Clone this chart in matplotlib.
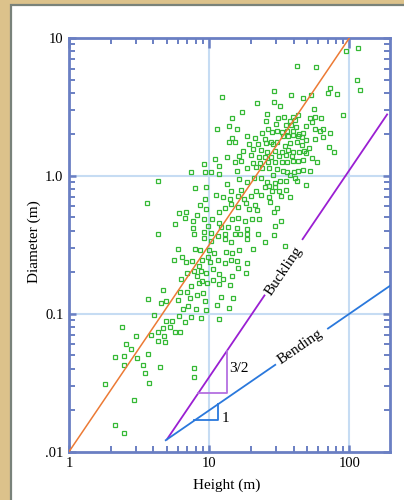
import numpy as np
import matplotlib
matplotlib.use("Agg")
import matplotlib.pyplot as plt
from matplotlib.patches import Rectangle
from matplotlib.ticker import NullFormatter

plt.rcParams['font.family'] = ['Liberation Serif', 'DejaVu Serif']

# tree data (log10 of metres)
log_height = [
    1.979, 2.064, 1.627, 1.760, 2.055, 2.078, 1.465, 1.586, 1.094, 1.672,
    1.729, 1.864, 1.845, 1.914, 1.341, 1.465, 1.503, 1.237, 1.413, 1.750,
    1.955, 1.161, 1.489, 1.534, 1.405, 1.598, 1.631, 1.717, 1.757, 1.798,
    1.577, 1.615, 1.731, 1.141, 1.201, 1.058, 1.420, 1.474, 1.546, 1.584,
    1.620, 1.691, 1.753, 1.791, 1.812, 1.864, 1.377, 1.448, 1.482, 1.520,
    1.555, 1.598, 1.639, 1.667, 1.272, 1.329, 1.163, 1.144, 1.184, 1.284,
    1.346, 1.403, 1.439, 1.482, 1.527, 1.565, 1.600, 1.631, 1.660, 1.688,
    1.753, 1.812, 1.398, 1.453, 1.541, 1.577, 1.624, 1.662, 1.715, 1.855,
    1.893, 1.244, 1.315, 1.367, 1.415, 1.470, 1.517, 1.562, 1.600, 1.639,
    1.674, 1.213, 1.296, 1.358, 1.396, 1.441, 1.496, 1.548, 1.589, 1.688,
    1.736, 1.772, 0.966, 1.039, 1.130, 1.070, 1.182, 1.227, 1.310, 1.363,
    1.420, 1.472, 1.517, 1.558, 1.596, 1.631, 1.669, 0.868, 0.970, 1.013,
    1.070, 1.196, 1.270, 1.332, 1.377, 1.429, 1.482, 1.527, 1.558, 1.603,
    1.631, 1.672, 1.722, 0.637, 1.213, 1.268, 1.317, 1.367, 1.410, 1.453,
    1.467, 1.508, 1.546, 1.577, 1.612, 1.629, 1.691, 1.125, 0.897, 0.975,
    1.156, 1.229, 1.337, 1.401, 1.448, 1.496, 1.548, 1.429, 1.470, 1.051,
    1.099, 1.146, 0.970, 1.206, 1.249, 1.298, 1.372, 1.424, 1.510, 1.574,
    0.554, 0.782, 0.837, 0.828, 0.754, 0.932, 0.975, 0.913, 0.887, 0.887,
    0.961, 1.023, 1.068, 1.113, 1.158, 1.206, 1.263, 1.284, 1.327, 1.344,
    1.434, 1.486, 1.070, 1.161, 1.208, 1.258, 1.303, 1.358, 1.465, 1.515,
    0.992, 0.963, 1.013, 1.084, 1.137, 1.196, 1.268, 0.892, 0.637, 1.065,
    1.113, 1.182, 1.222, 1.270, 1.351, 1.472, 1.465, 0.961, 1.011, 1.113,
    1.156, 1.270, 1.396, 1.539,
    0.780, 0.901, 0.935, 0.996, 1.037, 1.122, 1.165, 1.213, 1.310, 0.751,
    0.806, 0.837, 0.880, 0.925, 0.951, 0.994, 1.006, 1.063, 1.113, 1.158,
    1.199, 1.268, 1.206, 1.263, 0.799, 0.839, 0.894, 0.916, 0.942, 0.980,
    1.025, 1.068, 1.101, 1.165, 0.673, 0.794, 0.844, 0.868, 0.927, 0.949,
    0.985, 1.030, 1.073, 1.149, 0.564, 0.656, 0.690, 0.780, 0.816, 0.847,
    0.908, 0.968, 0.980, 1.056, 1.087, 1.144, 1.172, 0.866, 0.916, 0.958,
    0.604, 0.690, 0.737, 0.787, 0.825, 0.873, 0.944, 1.073, 0.380, 0.478,
    0.587, 0.635, 0.673, 0.718, 0.756, 0.792, 0.407, 0.445, 0.326, 0.392,
    0.483, 0.566, 0.635, 0.683, 0.675, 0.530, 0.652, 0.395, 0.545, 0.573,
    0.259, 0.466, 0.328, 0.392, 0.889, 0.889,
]
log_diameter = [
    0.904, 0.928, 0.796, 0.791, 0.692, 0.625, 0.613, 0.587, 0.572, 0.565,
    0.589, 0.639, 0.601, 0.591, 0.531, 0.538, 0.510, 0.466, 0.452, 0.483,
    0.445, 0.418, 0.418, 0.430, 0.401, 0.430, 0.445, 0.423, 0.430, 0.423,
    0.399, 0.406, 0.392, 0.361, 0.339, 0.339, 0.341, 0.373, 0.368, 0.368,
    0.358, 0.365, 0.339, 0.325, 0.339, 0.308, 0.308, 0.315, 0.325, 0.320,
    0.327, 0.327, 0.305, 0.310, 0.286, 0.272, 0.276, 0.243, 0.243, 0.233,
    0.233, 0.236, 0.243, 0.248, 0.291, 0.288, 0.298, 0.286, 0.281, 0.260,
    0.267, 0.284, 0.267, 0.231, 0.219, 0.238, 0.243, 0.224, 0.200, 0.212,
    0.171, 0.178, 0.195, 0.190, 0.175, 0.178, 0.175, 0.190, 0.175, 0.171,
    0.183, 0.147, 0.154, 0.137, 0.137, 0.139, 0.142, 0.151, 0.144, 0.168,
    0.130, 0.099, 0.084, 0.125, 0.139, 0.070, 0.099, 0.108, 0.096, 0.094,
    0.103, 0.103, 0.099, 0.099, 0.106, 0.111, 0.113, 0.026, 0.026, 0.031,
    0.014, 0.036, 0.058, 0.065, 0.055, 0.058, 0.050, 0.038, 0.029, 0.026,
    0.034, 0.046, 0.034, -0.036, -0.024, -0.043, -0.014, -0.017, -0.041, 0.007,
    -0.048, -0.034, -0.036, 0.010, -0.014, -0.034, -0.065, -0.058, -0.091, -0.084,
    -0.111, -0.099, -0.113, -0.082, -0.111, -0.106, -0.101, -0.072, -0.077, -0.139,
    -0.156, -0.168, -0.171, -0.144, -0.168, -0.144, -0.142, -0.151, -0.149, -0.154,
    -0.195, -0.269, -0.262, -0.305, -0.349, -0.214, -0.243, -0.284, -0.329, -0.375,
    -0.315, -0.313, -0.264, -0.233, -0.204, -0.228, -0.195, -0.243, -0.214, -0.248,
    -0.190, -0.231, -0.344, -0.310, -0.303, -0.325, -0.310, -0.310, -0.262, -0.325,
    -0.361, -0.406, -0.411, -0.368, -0.373, -0.377, -0.387, -0.418, -0.421, -0.433,
    -0.423, -0.418, -0.421, -0.418, -0.418, -0.361, -0.430, -0.452, -0.474, -0.454,
    -0.478, -0.459, -0.478, -0.505,
    -0.529, -0.532, -0.537, -0.537, -0.561, -0.551, -0.556, -0.537, -0.529, -0.607,
    -0.588, -0.622, -0.615, -0.651, -0.610, -0.588, -0.622, -0.612, -0.634, -0.612,
    -0.615, -0.629, -0.666, -0.702, -0.749, -0.705, -0.693, -0.727, -0.688, -0.707,
    -0.676, -0.710, -0.746, -0.727, -0.829, -0.841, -0.841, -0.798, -0.776, -0.761,
    -0.776, -0.754, -0.785, -0.793, -0.895, -0.922, -0.910, -0.900, -0.966, -0.944,
    -0.966, -0.910, -0.976, -0.934, -0.878, -0.959, -0.885, -0.885, -0.866, -0.846,
    -1.007, -1.051, -1.051, -1.017, -1.061, -1.024, -1.034, -1.037, -1.093, -1.163,
    -1.151, -1.134, -1.100, -1.098, -1.129, -1.134, -1.222, -1.256, -1.310, -1.307,
    -1.317, -1.290, -1.198, -1.202, -1.159, -1.368, -1.383, -1.368, -1.432, -1.502,
    -1.507, -1.624, -1.807, -1.863, -1.390, -1.461,
]

# guide lines
trend_h = [1, 100]
trend_d = [0.01, 10]
buckling_coef = 0.0011       # D = c * H^1.5
buckling_h = [[5.0, 24.8], [46.4, 186.0]]
bending_exp = 0.7            # D = 0.1 * (H/100)^0.7
bending_h = [[4.9, 29.6], [70.4, 195.0]]

x_ticks = [1, 10, 100]
x_labels = ['1', '10', '100']
y_ticks = [0.01, 0.1, 1, 10]
y_labels = ['.01', '0.1', '1.0', '10']

frame_col = '#6a7fc3'
grid_col = '#c6dcf3'
orange = '#ec7a35'
purple = '#9a1fd2'
purple_light = '#b46fe0'
blue = '#2a78dc'
green = '#35b935'


def buckling(h):
    return buckling_coef * np.asarray(h) ** 1.5


def bending(h):
    return 0.1 * (np.asarray(h) / 100.0) ** bending_exp


fig = plt.figure(figsize=(4.04, 5.0), dpi=100)
fig.patch.set_facecolor('#dcc28b')
card = Rectangle((11 / 404, -0.01), 1.0, 0.9999 - 5 / 500 + 0.01,
                 transform=fig.transFigure, facecolor='white',
                 edgecolor='#79827a', linewidth=1.6, zorder=-5)
fig.patches.append(card)

ax = fig.add_axes([69 / 404, 48.3 / 500, 321 / 404, 413.7 / 500])
ax.set_xscale('log')
ax.set_yscale('log')
ax.set_xlim(1, 195)
ax.set_ylim(0.01, 10)
ax.set_facecolor('white')

for v in [10, 100]:
    ax.axvline(v, color=grid_col, lw=1.5, zorder=1)
for v in [0.1, 1]:
    ax.axhline(v, color=grid_col, lw=1.5, zorder=1)

height = 10 ** np.array(log_height)
diameter = 10 ** np.array(log_diameter)
ax.plot(height, diameter, 's', ms=3.2, mfc='none', mec=green, mew=0.9, zorder=2)

ax.plot(trend_h, trend_d, color=orange, lw=1.1, zorder=3)
for seg in buckling_h:
    ax.plot(seg, buckling(seg), color=purple, lw=1.3, zorder=3)
for seg in bending_h:
    ax.plot(seg, bending(seg), color=blue, lw=1.3, zorder=3)

# slope triangles
h1, h2 = 8.39, 13.4
ax.plot([h1, h2, h2], [buckling(h1), buckling(h1), buckling(h2)],
        color=purple_light, lw=1.3, zorder=3)
h1, h2 = 7.85, 11.65
ax.plot([h1, h2, h2], [bending(h1), bending(h1), bending(h2)],
        color=blue, lw=1.3, zorder=3)

ax.text(34, 0.205, 'Buckling', rotation=56, rotation_mode='anchor',
        ha='center', va='center', fontsize=11)
ax.text(44.7, 0.0577, 'Bending', rotation=34.6, rotation_mode='anchor',
        ha='center', va='center', fontsize=11)
ax.text(16.2, 0.0402, '3/2', ha='center', va='center', fontsize=11)
ax.text(13.0, 0.01746, '1', ha='center', va='center', fontsize=11)

ax.set_xticks(x_ticks)
ax.set_xticklabels(x_labels)
ax.set_yticks(y_ticks)
ax.set_yticklabels(y_labels)
ax.xaxis.set_minor_formatter(NullFormatter())
ax.yaxis.set_minor_formatter(NullFormatter())
ax.tick_params(which='both', direction='in', top=True, right=True,
               color=frame_col, labelsize=10.5, labelcolor='black')
ax.tick_params(which='major', length=5, width=1.8, pad=4)
ax.tick_params(which='minor', length=4, width=1.4)
# the top axis has longer major ticks
for t in ax.xaxis.get_major_ticks():
    t.tick2line.set_markersize(7.5)
for sp in ax.spines.values():
    sp.set_color(frame_col)
    sp.set_linewidth(2)

fig.text(226.7 / 404, 1 - 485 / 500, 'Height (m)', ha='center', va='center', fontsize=11)
fig.text(34 / 404, 1 - 242 / 500, 'Diameter (m)', ha='center', va='center',
         rotation=90, fontsize=11)

fig.savefig('out.png', dpi=100, facecolor=fig.get_facecolor())
